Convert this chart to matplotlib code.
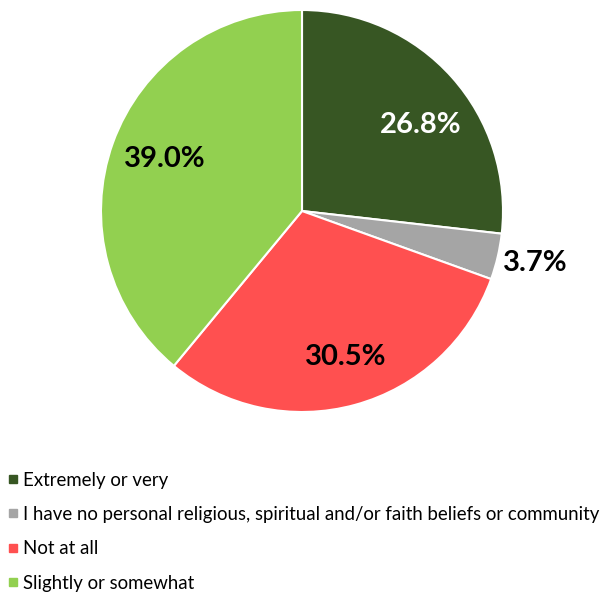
import matplotlib.pyplot as plt
import numpy as np
from matplotlib.lines import Line2D

plt.rcParams['font.family'] = ['Lato', 'DejaVu Sans']

categories = ["Extremely or very",
              "I have no personal religious, spiritual and/or faith beliefs or community",
              "Not at all",
              "Slightly or somewhat"]
values = [26.8, 3.7, 30.5, 39.0]
colors = ["#375623", "#A5A5A5", "#FF5050", "#92D050"]
label_colors = ["white", "black", "black", "black"]

W, H = 605, 594
fig = plt.figure(figsize=(W / 100, H / 100), dpi=100)
# pie centred at (302, 211) px, radius 201 px
ax = fig.add_axes([101 / W, (H - 412) / H, 402 / W, 402 / H])
wedges, _ = ax.pie(values, colors=colors, startangle=90, counterclock=False,
                   wedgeprops=dict(edgecolor="white", linewidth=1.5))
ax.set_xlim(-1, 1)
ax.set_ylim(-1, 1)
ax.set_aspect("equal")

# label placement: (radial distance, angular tweak in degrees), Excel-like
label_pos = [(0.73, -6), (1.19, 0.5), (0.76, 1.5), (0.73, -1)]
for w, v, (d, da), c in zip(wedges, values, label_pos, label_colors):
    ang = np.deg2rad((w.theta1 + w.theta2) / 2 + da)
    ax.text(d * np.cos(ang), d * np.sin(ang), f"{v:.1f}%", ha="center", va="center",
            fontsize=21, fontweight="bold", color=c)

handles = [Line2D([], [], marker="s", linestyle="none", markersize=6,
                  markerfacecolor=c, markeredgecolor=c) for c in colors]
fig.legend(handles, categories, loc="upper left", bbox_to_anchor=(0.0, (H - 466) / H),
           frameon=False, fontsize=13.4, labelspacing=0.93, handletextpad=0.15,
           handlelength=0.8, borderaxespad=0.0, borderpad=0.3)

fig.savefig("out.png", dpi=100)
